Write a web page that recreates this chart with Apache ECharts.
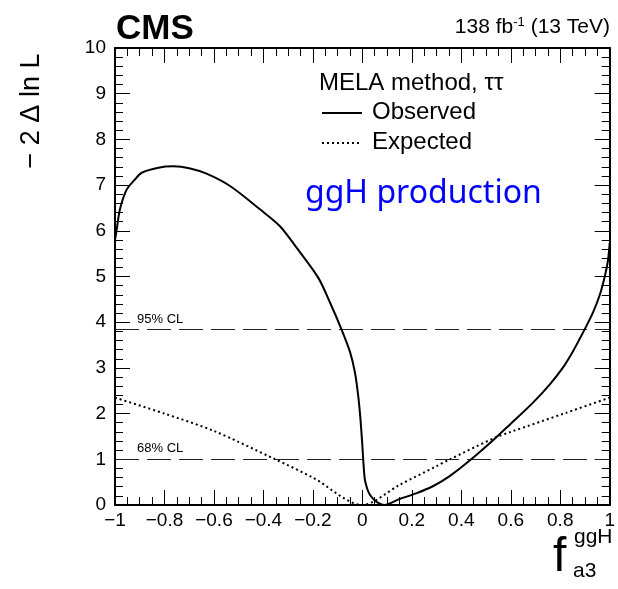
<!DOCTYPE html>
<html>
<head>
<meta charset="utf-8">
<script src="https://cdn.jsdelivr.net/npm/echarts@6/dist/echarts.min.js"></script>
<style>
  html, body { margin: 0; padding: 0; background: #fff; }
  #main { width: 618px; height: 589px; }
</style>
</head>
<body>
<div id="main"></div>
<script>
// observed scan (-2 delta ln L vs f_a3^ggH)
var obsX = [-1.0, -0.993, -0.98, -0.953, -0.92, -0.892, -0.825, -0.764, -0.7, -0.63, -0.535, -0.414, -0.333, -0.266, -0.178, -0.13, -0.084, -0.05, -0.03, -0.017, -0.008, 0.0, 0.004, 0.01, 0.02, 0.03, 0.05, 0.07, 0.09, 0.15, 0.22, 0.285, 0.35, 0.44, 0.535, 0.6, 0.69, 0.758, 0.81, 0.85, 0.88, 0.906, 0.933, 0.96, 0.98, 0.993, 1.0];
var obsY = [5.8, 6.03, 6.47, 6.9, 7.12, 7.27, 7.38, 7.41, 7.37, 7.25, 6.98, 6.47, 6.1, 5.63, 4.97, 4.42, 3.84, 3.35, 2.9, 2.4, 1.9, 1.3, 0.95, 0.56, 0.35, 0.23, 0.1, 0.03, 0.0, 0.13, 0.26, 0.41, 0.62, 1.0, 1.45, 1.78, 2.24, 2.64, 3.0, 3.35, 3.65, 3.92, 4.22, 4.6, 5.0, 5.35, 5.74];

// expected scan
var expX = [-1.0, -0.8, -0.6, -0.36, -0.2, 0.0, 0.15, 0.3, 0.35, 0.535, 0.6, 0.825, 1.0];
var expY = [2.35, 2.0, 1.62, 1.02, 0.6, 0.0, 0.44, 0.85, 0.99, 1.47, 1.6, 2.02, 2.35];

// confidence levels
var clValues = [3.84, 1.0];
var clNames = ['95% CL', '68% CL'];

var xTicks = { min: -1, max: 1, interval: 0.2 };
var yTicks = { min: 0, max: 10, interval: 1 };

function zip(xs, ys) {
  return xs.map(function(x, i) { return [x, ys[i]]; });
}

function fmtX(v) {
  var s = String(+v.toFixed(1));
  return v < 0 ? '\u2212' + s.slice(1) : s;
}

var FONT = '"Liberation Sans", Arial, sans-serif';

function axisX(pos, showLabel) {
  return {
    type: 'value', position: pos, min: xTicks.min, max: xTicks.max, interval: xTicks.interval,
    axisLine: { show: true, onZero: false, lineStyle: { color: '#000', width: 2 } },
    axisTick: { show: true, inside: true, length: 15, lineStyle: { color: '#000', width: 1 } },
    minorTick: { show: true, splitNumber: 4, length: 8, lineStyle: { color: '#000', width: 1 } },
    splitLine: { show: false },
    axisLabel: { show: showLabel, formatter: fmtX, color: '#000', fontSize: 19, fontFamily: FONT, margin: 6,
      showMinLabel: true, showMaxLabel: true }
  };
}

function axisY(pos, showLabel) {
  return {
    type: 'value', position: pos, min: yTicks.min, max: yTicks.max, interval: yTicks.interval,
    axisLine: { show: true, onZero: false, lineStyle: { color: '#000', width: 2 } },
    axisTick: { show: true, inside: true, length: 15, lineStyle: { color: '#000', width: 1 } },
    minorTick: { show: true, splitNumber: 5, length: 8, lineStyle: { color: '#000', width: 1 } },
    splitLine: { show: false },
    axisLabel: { show: showLabel, color: '#000', fontSize: 19, fontFamily: FONT, margin: 9 }
  };
}

var chart = echarts.init(document.getElementById('main'), null, { renderer: 'canvas' });

var option = {
  animation: false,
  backgroundColor: '#fff',
  grid: { left: 115, right: 8, top: 48, bottom: 84 },
  xAxis: [axisX('bottom', true), axisX('top', false)],
  yAxis: [axisY('left', true), axisY('right', false)],
  series: [
    {
      name: 'Observed', type: 'line', data: zip(obsX, obsY), showSymbol: false,
      smooth: 0.3,
      lineStyle: { color: '#000', width: 2 }, z: 5,
      markLine: {
        silent: true, symbol: 'none',
        lineStyle: { color: '#222', width: 1, type: [24, 8] },
        label: {
          position: 'insideStartTop', color: '#000', fontSize: 13, fontFamily: FONT,
          distance: [22, 4]
        },
        data: clValues.map(function(v, i) {
          return { yAxis: v, label: { formatter: clNames[i] } };
        })
      }
    },
    {
      name: 'Expected', type: 'line', data: zip(expX, expY), showSymbol: false,
      smooth: 0.3,
      lineStyle: { color: '#000', width: 2, type: [2, 3] }, z: 4
    }
  ],
  graphic: [
    { type: 'text', left: 116, top: 12, style: { text: 'CMS', font: 'bold 35px ' + FONT, fill: '#000' } },
    { type: 'text', right: 8, top: 16, style: {
        text: '138 fb{s|-1} (13 TeV)', font: '21px ' + FONT, fill: '#000',
        rich: { s: { fontSize: 13, fontFamily: FONT, verticalAlign: 'top', padding: [0, 0, 10, 0] } }
      } },
    { type: 'text', x: 32, y: 111, rotation: Math.PI / 2, style: {
        text: '\u2212 2 \u0394 ln L', font: '27px ' + FONT, fill: '#000', align: 'center', verticalAlign: 'middle' } },
    // x axis title
    { type: 'text', x: 553, y: 534, style: { text: 'f', font: '48px ' + FONT, fill: '#000' } },
    { type: 'text', x: 574, y: 527, style: { text: 'ggH', font: '21px ' + FONT, fill: '#000' } },
    { type: 'text', x: 573, y: 561, style: { text: 'a3', font: '21px ' + FONT, fill: '#000' } },
    // legend
    { type: 'text', x: 319, y: 71, style: { text: 'MELA method, \u03c4\u03c4', font: '24px ' + FONT, fill: '#000' } },
    { type: 'line', shape: { x1: 322, y1: 113, x2: 362, y2: 113 }, style: { stroke: '#000', lineWidth: 2 } },
    { type: 'text', x: 372, y: 100, style: { text: 'Observed', font: '24px ' + FONT, fill: '#000' } },
    { type: 'line', shape: { x1: 322, y1: 143, x2: 362, y2: 143 }, style: { stroke: '#000', lineWidth: 2, lineDash: [2, 3] } },
    { type: 'text', x: 372, y: 130, style: { text: 'Expected', font: '24px ' + FONT, fill: '#000' } },
    { type: 'text', x: 305, y: 178, style: { text: 'ggH production', font: '32px "Noto Sans", sans-serif', fill: '#0000ff' } }
  ]
};

chart.setOption(option);
</script>
</body>
</html>
